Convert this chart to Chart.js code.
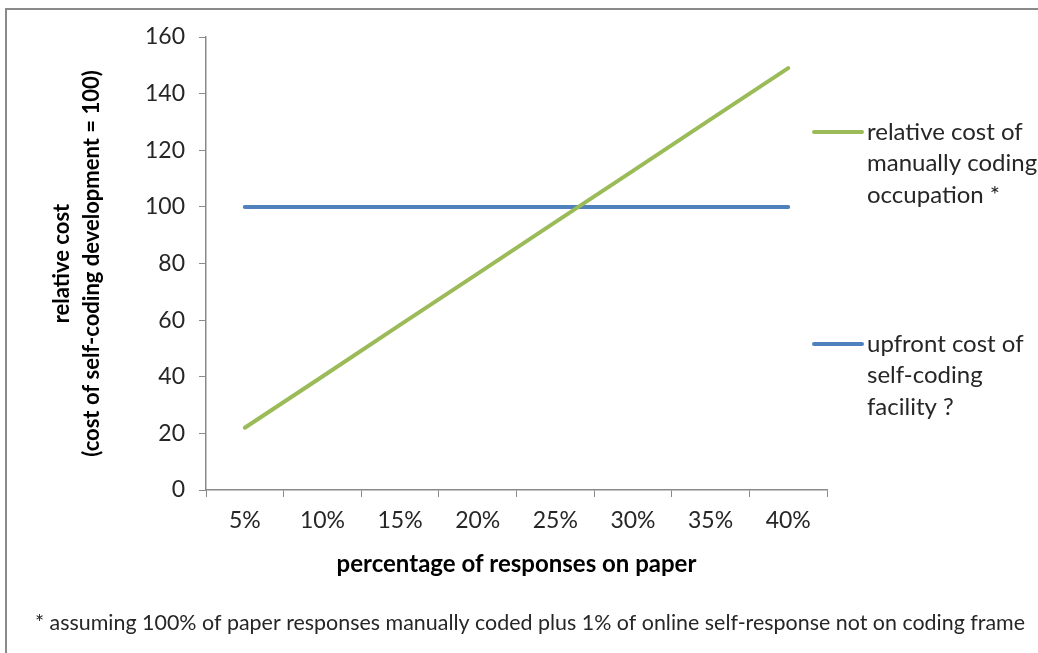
<!DOCTYPE html>
<html>
<head>
<meta charset="utf-8">
<script src="https://cdn.jsdelivr.net/npm/chart.js@4"></script>
<style>
  html, body { margin: 0; padding: 0; background: #fff; }
  #wrap { position: relative; width: 1038px; height: 653px; }
</style>
</head>
<body>
<div id="wrap"><canvas id="cost-chart" width="1038" height="653"></canvas></div>
<script>
// chart values
var paperShare = ['5%', '10%', '15%', '20%', '25%', '30%', '35%', '40%'];
var manualCost = [22, 40.1, 58.3, 76.4, 94.6, 112.7, 130.9, 149];
var upfrontCost = [100, 100, 100, 100, 100, 100, 100, 100];
var yMin = 0, yMax = 160, yStep = 20;

var manualLabel = ['relative cost of', 'manually coding', 'occupation *'];
var upfrontLabel = ['upfront cost of', 'self-coding', 'facility ?'];
var footnote = '* assuming 100% of paper responses manually coded plus 1% of online self-response not on coding frame';

var fontFamily = 'Lato, "Open Sans", sans-serif';
var textColor = '#262626';

// frame, side legend and footnote
var extras = {
  id: 'extras',
  beforeDraw: function(chart) {
    var ctx = chart.ctx;
    ctx.save();
    ctx.fillStyle = '#fff';
    ctx.fillRect(0, 0, chart.width, chart.height);
    ctx.strokeStyle = '#8a8a8a';
    ctx.lineWidth = 2;
    ctx.strokeRect(6, 9, 1100, 700);
    ctx.restore();
  },
  afterDraw: function(chart) {
    var ctx = chart.ctx;
    var items = [
      { ds: chart.data.datasets[0], lines: manualLabel, y: 132 },
      { ds: chart.data.datasets[1], lines: upfrontLabel, y: 344 }
    ];
    ctx.save();
    items.forEach(function(it) {
      ctx.strokeStyle = it.ds.borderColor;
      ctx.lineWidth = 4;
      ctx.lineCap = 'round';
      ctx.beginPath();
      ctx.moveTo(814, it.y);
      ctx.lineTo(862, it.y);
      ctx.stroke();
      ctx.fillStyle = textColor;
      ctx.font = '24px ' + fontFamily;
      ctx.textBaseline = 'middle';
      it.lines.forEach(function(t, i) {
        ctx.fillText(t, 867, it.y + i * 31.5);
      });
    });
    ctx.font = '22px ' + fontFamily;
    ctx.textBaseline = 'middle';
    ctx.fillText(footnote, 35, 623, 990);
    ctx.restore();
  }
};

var ctx = document.getElementById('cost-chart');
var costChart = new Chart(ctx, {
  type: 'line',
  data: {
    labels: paperShare,
    datasets: [{
      label: manualLabel.join(' '),
      data: manualCost,
      borderColor: '#9BBB59',
      borderWidth: 4,
      borderCapStyle: 'round',
      pointRadius: 0,
      tension: 0,
      fill: false
    }, {
      label: upfrontLabel.join(' '),
      data: upfrontCost,
      borderColor: '#4F81BD',
      borderWidth: 4,
      borderCapStyle: 'round',
      pointRadius: 0,
      tension: 0,
      fill: false
    }]
  },
  options: {
    responsive: false,
    animation: false,
    layout: { padding: { left: 40, top: 37, right: 211, bottom: 0 } },
    plugins: {
      legend: { display: false },
      tooltip: { enabled: false }
    },
    scales: {
      x: {
        offset: true,
        grid: { offset: true, drawOnChartArea: false, drawTicks: true, tickLength: 7, color: '#8a8a8a' },
        border: { color: '#8a8a8a', width: 1.5 },
        ticks: { color: textColor, padding: 10, font: { family: fontFamily, size: 23 } },
        title: {
          display: true,
          text: 'percentage of responses on paper',
          color: '#000',
          font: { family: fontFamily, size: 24, weight: 'bold' },
          padding: { top: 0, bottom: 74 }
        },
        afterFit: function(scale) { scale.height = 163; }
      },
      y: {
        min: yMin,
        max: yMax,
        grid: { drawOnChartArea: false, drawTicks: true, tickLength: 7, color: '#8a8a8a' },
        border: { color: '#8a8a8a', width: 1.5 },
        ticks: { stepSize: yStep, color: textColor, padding: 14, font: { family: fontFamily, size: 23 } },
        title: {
          display: true,
          text: ['relative cost', '(cost of self-coding development = 100)'],
          color: '#000',
          font: { family: fontFamily, size: 22, weight: 'bold', lineHeight: 1.36 },
          padding: { top: 7, bottom: 0 }
        },
        afterFit: function(scale) { scale.width = 166; }
      }
    }
  },
  plugins: [extras]
});
</script>
</body>
</html>
